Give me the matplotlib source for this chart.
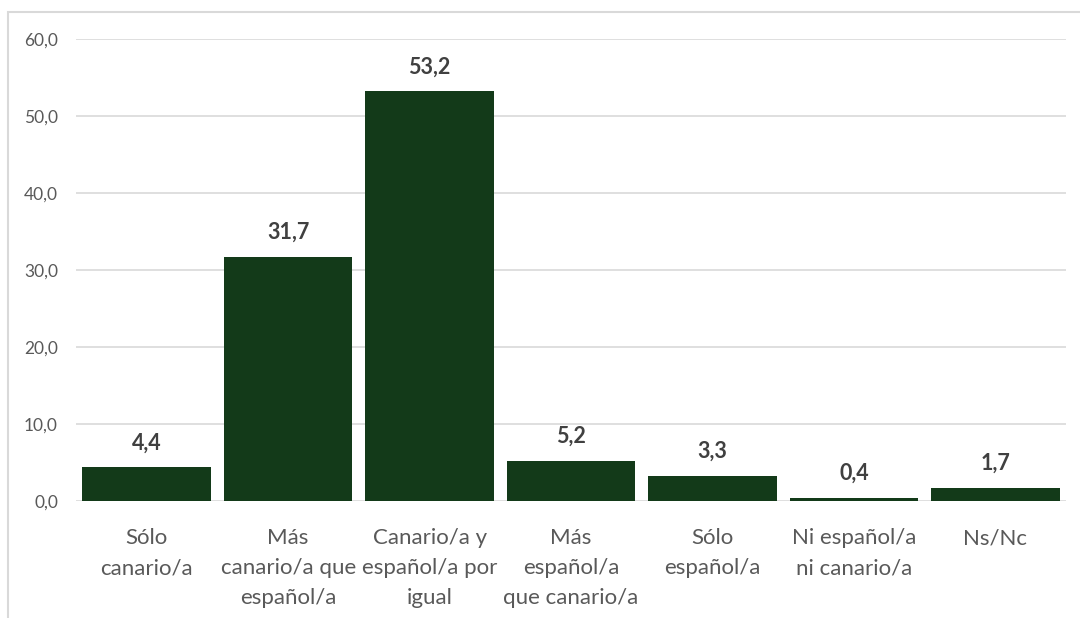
import matplotlib
matplotlib.use("Agg")
import matplotlib.pyplot as plt
from matplotlib.patches import Rectangle

categories = ["Sólo\ncanario/a", "Más\ncanario/a que\nespañol/a", "Canario/a y\nespañol/a por\nigual",
              "Más\nespañol/a\nque canario/a", "Sólo\nespañol/a", "Ni español/a\nni canario/a", "Ns/Nc"]
values = [4.4, 31.7, 53.2, 5.2, 3.3, 0.4, 1.7]
yticks = [0, 10, 20, 30, 40, 50, 60]

plt.rcParams['font.family'] = ['Lato', 'DejaVu Sans']

W, H = 1080, 618
fig = plt.figure(figsize=(W/100, H/100), dpi=100)
ax = fig.add_axes([76/W, 1-501/H, (1066-76)/W, (501-39)/H])

x = list(range(len(categories)))
bars = ax.bar(x, values, width=0.91, color='#133a19', zorder=3)
for xi, v in zip(x, values):
    ax.annotate(f"{v:.1f}".replace('.', ','), (xi, v), xytext=(0, 17.5), textcoords='offset points',
                ha='center', va='center', fontsize=15.5, fontweight='bold', color='#404040')

ax.set_xlim(-0.5, len(categories)-0.5)
ax.set_ylim(0, 60)
ax.set_yticks(yticks)
ax.set_yticklabels([f"{t:.1f}".replace('.', ',') for t in yticks], fontsize=12.5, color='#595959')
ax.set_xticks(x)
ax.set_xticklabels(categories, fontsize=16, color='#595959')
for lab in ax.get_xticklabels():
    lab.set_linespacing(1.62)
ax.tick_params(axis='both', length=0)
ax.tick_params(axis='y', pad=13)
ax.tick_params(axis='x', pad=19.5)
ax.grid(axis='y', color='#d9d9d9', lw=1.2, zorder=0)
for s in ax.spines.values():
    s.set_visible(False)

fig.patches.append(Rectangle((8/W, -0.1), 2, (H-12)/H + 0.1, transform=fig.transFigure,
                             fill=False, edgecolor='#d9d9d9', lw=1.5, clip_on=False))

fig.savefig("out.png", dpi=100)
